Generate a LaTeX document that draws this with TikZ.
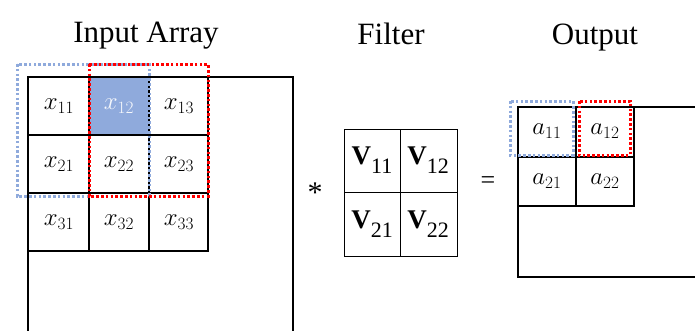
\documentclass[tikz,border=0pt]{standalone}
\usepackage{fontspec}
\setmainfont{Liberation Serif}
\begin{document}
\begin{tikzpicture}[x=1pt,y=-1pt,
  frame/.style={draw=black,line width=2pt},
  thin/.style={draw=black,line width=1pt},
  bluedot/.style={draw={rgb,255:red,143;green,170;blue,220},line width=3pt,dash pattern=on 2.6pt off 2.2pt},
  reddot/.style={draw=red,line width=3pt,dash pattern=on 2.6pt off 2.2pt},
  title/.style={font=\fontsize{31}{31}\selectfont,anchor=base},
  lab/.style={font=\fontsize{26}{26}\selectfont,inner sep=0pt},
  vlab/.style={font=\fontsize{27}{27}\selectfont,inner sep=0pt}]
\useasboundingbox (0,0) rectangle (695,330);
\definecolor{cellblue}{RGB}{143,170,220}
% titles
\node[title] (tin) at (146,42) {Input Array};
\node[title] (tfi) at (391,44) {Filter};
\node[title] (tout) at (595,44) {Output};
% input array
\fill[cellblue] (89,77) rectangle (149,135);
\draw[frame] (28,332) -- (28,77) -- (293,77) -- (293,332);
\draw[frame] (28,77) rectangle (208,251);
\draw[frame] (89,77) -- (89,251) (149,77) -- (149,251);
\draw[frame] (28,135) -- (208,135) (28,193) -- (208,193);
\node[lab] (x11) at (59,106) {$x_{11}$};
\node[lab,text=white!92!cellblue] (x12) at (119,106) {$x_{12}$};
\node[lab] (x13) at (179,106) {$x_{13}$};
\node[lab] (x21) at (59,164) {$x_{21}$};
\node[lab] (x22) at (119,164) {$x_{22}$};
\node[lab] (x23) at (179,164) {$x_{23}$};
\node[lab] (x31) at (59,222) {$x_{31}$};
\node[lab] (x32) at (119,222) {$x_{32}$};
\node[lab] (x33) at (179,222) {$x_{33}$};
\draw[bluedot] (17,64) rectangle (149,196);
\draw[reddot] (89,64) rectangle (208,196);
% operator symbols
\node[font=\fontsize{30}{30}\selectfont,inner sep=0pt] (star) at (315,193) {*};
\node[font=\fontsize{26}{26}\selectfont,inner sep=0pt] (eq) at (488,183) {=};
% filter
\draw[thin] (344,129) rectangle (457,256);
\draw[thin] (400,129) -- (400,256) (344,192) -- (457,192);
\node[vlab] (v11) at (372,160) {\textbf{V}\raisebox{-9pt}{\fontsize{22}{22}\selectfont 11}};
\node[vlab] (v12) at (428,160) {\textbf{V}\raisebox{-9pt}{\fontsize{22}{22}\selectfont 12}};
\node[vlab] (v21) at (372,224) {\textbf{V}\raisebox{-9pt}{\fontsize{22}{22}\selectfont 21}};
\node[vlab] (v22) at (428,224) {\textbf{V}\raisebox{-9pt}{\fontsize{22}{22}\selectfont 22}};
% output
\draw[frame] (697,107) -- (518,107) -- (518,277) -- (697,277);
\draw[frame] (518,107) rectangle (634,206);
\draw[frame] (576,107) -- (576,206) (518,157) -- (634,157);
\node[lab] (a11) at (547,131) {$a_{11}$};
\node[lab] (a12) at (605,131) {$a_{12}$};
\node[lab] (a21) at (547,181) {$a_{21}$};
\node[lab] (a22) at (605,181) {$a_{22}$};
\draw[bluedot] (510,101) rectangle (573,155);
\draw[reddot] (579,101) rectangle (630,155);
\end{tikzpicture}
\end{document}
